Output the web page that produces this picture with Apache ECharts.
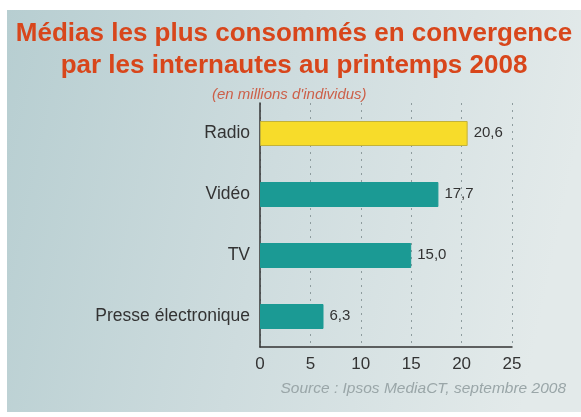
<!DOCTYPE html>
<html><head><meta charset="utf-8">
<script src="https://cdn.jsdelivr.net/npm/echarts@6/dist/echarts.min.js"></script>
<style>html,body{margin:0;padding:0;background:#fff}#c{width:581px;height:417px}</style>
</head><body><div id="c"></div>
<script>
const categories = ['Presse électronique', 'TV', 'Vidéo', 'Radio'];
const values = [6.3, 15.0, 17.7, 20.6];
const barColors = ['#1b9a94', '#1b9a94', '#1b9a94', '#f7dc2a'];
const xTicks = [0, 5, 10, 15, 20, 25];
const FONT = '"Liberation Sans", Arial, sans-serif';

const chart = echarts.init(document.getElementById('c'), null, {renderer: 'canvas'});
chart.setOption({
  animation: false,
  backgroundColor: '#ffffff',
  graphic: [{
    type: 'rect', left: 7, top: 10, z: -10,
    shape: {width: 574, height: 402},
    style: {fill: new echarts.graphic.LinearGradient(0, 0, 1, 0.3, [
      {offset: 0, color: '#b7ced1'},
      {offset: 0.5, color: '#cedcde'},
      {offset: 1, color: '#e3eaea'}
    ])}
  }, {
    type: 'text', x: 294, y: 21,
    style: {text: 'Médias les plus consommés en convergence', fill: '#d8461b', align: 'center', verticalAlign: 'top', font: 'bold 26px ' + FONT}
  }, {
    type: 'text', x: 294, y: 53,
    style: {text: 'par les internautes au printemps 2008', fill: '#d8461b', align: 'center', verticalAlign: 'top', font: 'bold 26px ' + FONT}
  }, {
    type: 'text', x: 212, y: 87,
    style: {text: "(en millions d'individus)", fill: '#cc5f48', verticalAlign: 'top', font: 'italic 15px ' + FONT}
  }, {
    type: 'text', x: 566, y: 381,
    style: {text: 'Source : Ipsos MediaCT, septembre 2008', fill: '#9aa6a8', align: 'right', verticalAlign: 'top', font: 'italic 15.5px ' + FONT}
  }],
  grid: {left: 260, right: 69, top: 103, bottom: 70, containLabel: false},
  xAxis: {
    type: 'value', min: 0, max: 25, interval: 5,
    axisLine: {show: true, lineStyle: {color: '#333', width: 1.5}},
    axisTick: {show: false},
    axisLabel: {color: '#333', fontSize: 17, margin: 9, fontFamily: FONT,
      formatter: v => xTicks.includes(v) ? String(v) : ''},
    splitLine: {show: true, lineStyle: {color: '#8e9c9e', type: [2, 5], width: 1}}
  },
  yAxis: {
    type: 'category', data: categories,
    axisLine: {show: true, lineStyle: {color: '#333', width: 1.5}},
    axisTick: {show: false},
    axisLabel: {color: '#333', fontSize: 17.5, margin: 10, fontFamily: FONT}
  },
  series: [{
    type: 'bar',
    data: values.map((v, i) => ({value: v, itemStyle: {color: barColors[i], borderColor: i === 3 ? '#c2b23a' : '#1b9a94', borderWidth: 1}})),
    barWidth: 25,
    label: {show: true, position: 'right', distance: 6, color: '#333', fontSize: 15, offset: [0, -1],
      fontFamily: FONT,
      formatter: p => p.value.toFixed(1).replace('.', ',')}
  }]
});
</script></body></html>
